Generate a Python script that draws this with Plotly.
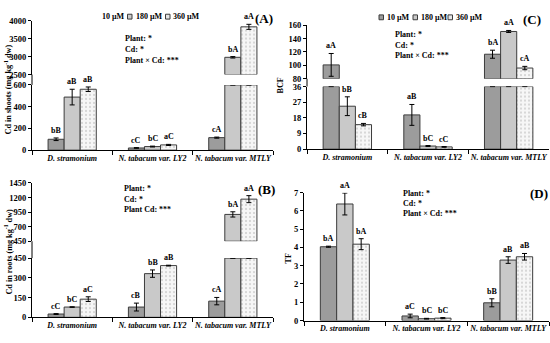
import plotly.graph_objects as go

# ---------------- data ----------------
plants = ["D. stramonium", "N. tabacum var. LY2", "N. tabacum var. MTLY"]
conc_labels = ["10 µM", "180 µM", "360 µM"]

# (A) Cd in shoots
shoot_10 = [100, 20, 115]
shoot_10_err = [12, 3, 5]
shoot_10_sig = ["bB", "cC", "cA"]
shoot_180 = [488, 33, 2980]
shoot_180_err = [72, 4, 20]
shoot_180_sig = ["aB", "bC", "bA"]
shoot_360 = [560, 48, 3825]
shoot_360_err = [21, 5, 70]
shoot_360_sig = ["aB", "aC", "aA"]

# (B) Cd in roots
root_10 = [25, 78, 123]
root_10_err = [3, 30, 28]
root_10_sig = ["cC", "cB", "cA"]
root_180 = [78, 332, 910]
root_180_err = [2, 28, 45]
root_180_sig = ["bC", "bB", "bA"]
root_360 = [138, 393, 1172]
root_360_err = [18, 3, 60]
root_360_sig = ["aC", "aB", "aA"]

# (C) BCF
bcf_10 = [100.7, 19.7, 116.6]
bcf_10_err = [17, 6, 6]
bcf_10_sig = ["aA", "aB", "bA"]
bcf_180 = [24.7, 1.8, 150.5]
bcf_180_err = [5.4, 0.3, 1.5]
bcf_180_sig = ["bB", "bC", "aA"]
bcf_360 = [14.1, 1.3, 96]
bcf_360_err = [0.7, 0.2, 2.5]
bcf_360_sig = ["cB", "cC", "cA"]

# (D) TF
tf_10 = [4.04, 0.25, 0.97]
tf_10_err = [0.03, 0.1, 0.22]
tf_10_sig = ["bA", "aC", "bB"]
tf_180 = [6.38, 0.1, 3.31]
tf_180_err = [0.6, 0.02, 0.18]
tf_180_sig = ["aA", "bC", "aB"]
tf_360 = [4.18, 0.13, 3.49]
tf_360_err = [0.3, 0.03, 0.18]
tf_360_sig = ["bA", "bC", "aB"]

stats_AC_D = ["Plant: *", "Cd: *", "Plant × Cd: ***"]
stats_B = ["Plant: *", "Cd: *", "Plant Cd: ***"]

# ---------------- layout helpers ----------------
W, H = 550, 343
FONT = "Liberation Serif"
BARGAP = 0.4
OUTLINE = "#3c3c3c"


def dom_x(a, b):
    return [a / W, b / W]


def dom_y(bottom, top):
    return [1 - bottom / H, 1 - top / H]


styles = [
    dict(color="#9c9c9c"),
    dict(color="#c9c9c9"),
    dict(color="#f4f4f4", pattern=dict(shape=".", fgcolor="#a8a8a8", bgcolor="#f6f6f6",
                                       size=4, solidity=0.22)),
]
legend_fill = ["#9c9c9c", "#c9c9c9", "#e6e6e6"]

panels = [
    dict(letter="(A)", series=[(shoot_10, shoot_10_err, shoot_10_sig),
                               (shoot_180, shoot_180_err, shoot_180_sig),
                               (shoot_360, shoot_360_err, shoot_360_sig)],
         xpx=(32, 273), lower=(0, 600), lower_ticks=[0, 200, 400, 600], lower_px=(149.5, 82.3),
         upper=(2500, 4000), upper_ticks=[2500, 3000, 3500, 4000], upper_px=(71.7, 16),
         title="Cd in shoots (mg kg<sup>-1</sup> dw)", title_pos=(8, 87),
         letter_pos=(264, 14), stats=stats_AC_D, stats_x=123, stats_y=[34, 45.5, 57]),
    dict(letter="(B)", series=[(root_10, root_10_err, root_10_sig),
                               (root_180, root_180_err, root_180_sig),
                               (root_360, root_360_err, root_360_sig)],
         xpx=(32, 273), lower=(0, 450), lower_ticks=[0, 150, 300, 450], lower_px=(321.7, 260.7),
         upper=(450, 1450), upper_ticks=[450, 700, 950, 1200, 1450], upper_px=(243.3, 183.3),
         title="Cd in roots (mg kg<sup>-1</sup> dw)", title_pos=(8, 254),
         letter_pos=(266, 190.5), stats=stats_B, stats_x=122, stats_y=[189.5, 200, 210.5]),
    dict(letter="(C)", series=[(bcf_10, bcf_10_err, bcf_10_sig),
                               (bcf_180, bcf_180_err, bcf_180_sig),
                               (bcf_360, bcf_360_err, bcf_360_sig)],
         xpx=(307, 549), lower=(0, 36), lower_ticks=[0, 9, 18, 27, 36], lower_px=(148.5, 84),
         upper=(80, 160), upper_ticks=[80, 100, 120, 140, 160], upper_px=(76, 20.7),
         title="BCF", title_pos=(281, 83),
         letter_pos=(532, 15), stats=stats_AC_D, stats_x=393, stats_y=[30.5, 41.5, 52.5]),
    dict(letter="(D)", series=[(tf_10, tf_10_err, tf_10_sig),
                               (tf_180, tf_180_err, tf_180_sig),
                               (tf_360, tf_360_err, tf_360_sig)],
         xpx=(304, 549), lower=(0, 7), lower_ticks=[0, 1, 2, 3, 4, 5, 6, 7], lower_px=(325, 193.3),
         upper=None,
         title="TF", title_pos=(288, 261),
         letter_pos=(539, 194), stats=stats_AC_D, stats_x=401, stats_y=[194, 204.5, 215]),
]

fig = go.Figure()
layout = dict(width=W, height=H, margin=dict(l=0, r=0, t=0, b=0),
              paper_bgcolor="white", plot_bgcolor="white", barmode="group",
              bargap=BARGAP, bargroupgap=0, showlegend=False,
              font=dict(family=FONT, color="black"))
annotations = []
shapes = []

tick_font = dict(family=FONT, size=8.5, color="black", weight="bold")
cat_font = dict(family=FONT, size=8, color="black", weight="bold", style="italic")
lbl_font = dict(family=FONT, size=8, color="black", weight="bold")


def axis_key(prefix, n):
    return prefix + ("" if n == 1 else str(n))


def ref(prefix, n):
    return prefix[0] + ("" if n == 1 else str(n))


n = 1
for p in panels:
    x0, x1 = p["xpx"]
    cat_px = (x1 - x0) / len(plants)
    bar_px = cat_px * (1 - BARGAP) / 3
    lo_n = n
    up_n = n + 1 if p["upper"] else None
    n += 2 if p["upper"] else 1

    # lower subplot axes
    layout[axis_key("xaxis", lo_n)] = dict(
        domain=dom_x(x0, x1), anchor=ref("y", lo_n), type="category",
        categoryarray=plants, range=[-0.5, 2.5], showline=True, linecolor="black",
        linewidth=1, ticks="outside", tickson="boundaries", ticklen=4, tickcolor="black",
        tickfont=cat_font, tickangle=0, showgrid=False, zeroline=False)
    layout[axis_key("yaxis", lo_n)] = dict(
        domain=dom_y(*p["lower_px"]), anchor=ref("x", lo_n), range=list(p["lower"]),
        tickvals=p["lower_ticks"], showline=True, linecolor="black", linewidth=1,
        ticks="outside", ticklen=3, tickcolor="black", tickfont=tick_font,
        showgrid=False, zeroline=False)
    if up_n:
        layout[axis_key("xaxis", up_n)] = dict(
            domain=dom_x(x0, x1), anchor=ref("y", up_n), type="category",
            categoryarray=plants, range=[-0.5, 2.5], visible=False)
        layout[axis_key("yaxis", up_n)] = dict(
            domain=dom_y(*p["upper_px"]), anchor=ref("x", up_n), range=list(p["upper"]),
            tickvals=p["upper_ticks"], showline=True, linecolor="black", linewidth=1,
            ticks="outside", ticklen=3, tickcolor="black", tickfont=tick_font,
            showgrid=False, zeroline=False)
        # continuous y-axis line across the break
        shapes.append(dict(type="line", xref="paper", yref="paper",
                           x0=x0 / W, x1=x0 / W,
                           y0=dom_y(*p["lower_px"])[1], y1=dom_y(*p["upper_px"])[0],
                           line=dict(color="black", width=1)))

    lo_max = p["lower"][1]
    for k, (vals, errs, sigs) in enumerate(p["series"]):
        st = styles[k]
        marker = dict(color=st["color"], line=dict(color=OUTLINE, width=1))
        if "pattern" in st:
            marker["pattern"] = st["pattern"]
        if up_n:
            lo_y = [min(v, lo_max) for v in vals]
            lo_e = [e if v <= lo_max else 0 for v, e in zip(vals, errs)]
        else:
            lo_y = list(vals)
            lo_e = list(errs)
        fig.add_trace(go.Bar(
            x=plants, y=lo_y, xaxis=ref("x", lo_n), yaxis=ref("y", lo_n),
            marker=marker, offsetgroup=str(k), alignmentgroup="g" + str(lo_n),
            name=conc_labels[k], hoverinfo="skip",
            error_y=dict(type="data", array=lo_e, color="black", thickness=1, width=2.5)))
        if up_n:
            umin = p["upper"][0]
            up_y = [v - umin if v > umin else None for v in vals]
            up_e = [e if v > umin else 0 for v, e in zip(vals, errs)]
            fig.add_trace(go.Bar(
                x=plants, y=up_y, base=umin, xaxis=ref("x", up_n), yaxis=ref("y", up_n),
                marker=marker, offsetgroup=str(k), alignmentgroup="g" + str(up_n),
                name=conc_labels[k], hoverinfo="skip",
                error_y=dict(type="data", array=up_e, color="black", thickness=1, width=2.5)))
        # significance letters
        for i, (v, e, s) in enumerate(zip(vals, errs, sigs)):
            on_up = up_n is not None and v > p["upper"][0]
            sub = up_n if on_up else lo_n
            annotations.append(dict(
                x=plants[i], y=v + e, xref=ref("x", sub), yref=ref("y", sub),
                text=s, showarrow=False, yanchor="bottom", xanchor="center",
                xshift=(k - 1) * bar_px, yshift=1, font=lbl_font))

    # axis title
    tx, ty = p["title_pos"]
    annotations.append(dict(x=tx / W, y=1 - ty / H, xref="paper", yref="paper",
                            text=p["title"], textangle=-90, showarrow=False,
                            xanchor="center", yanchor="middle",
                            font=dict(family=FONT, size=8.2, color="black", weight="bold")))
    # panel letter
    lx, ly = p["letter_pos"]
    annotations.append(dict(x=lx / W, y=1 - ly / H, xref="paper", yref="paper",
                            text=p["letter"], showarrow=False, xanchor="center",
                            yanchor="middle",
                            font=dict(family=FONT, size=13, color="black", weight="bold")))
    # statistics
    for line, sy in zip(p["stats"], p["stats_y"]):
        annotations.append(dict(x=p["stats_x"] / W, y=1 - sy / H, xref="paper", yref="paper",
                                text=line, showarrow=False, xanchor="left", yanchor="middle",
                                font=dict(family=FONT, size=8, color="black", weight="bold")))

# custom legends (A: first box is cut off in the original figure)
legend_items = [
    # (box_x or None, text_x, y)
    [(None, 100, 12), (127.5, 133.5, 12), (165.5, 171, 12)],
    [(379, 384.5, 12.7), (413, 418.5, 12.7), (448, 453.5, 12.7)],
]
for items in legend_items:
    for k, (bx, txx, yy) in enumerate(items):
        if bx is not None:
            shapes.append(dict(type="rect", xref="paper", yref="paper",
                               x0=bx / W, x1=(bx + 4.5) / W,
                               y0=1 - (yy + 2.5) / H, y1=1 - (yy - 2.5) / H,
                               fillcolor=legend_fill[k], line=dict(color=OUTLINE, width=1)))
        annotations.append(dict(x=txx / W, y=1 - yy / H, xref="paper", yref="paper",
                                text=conc_labels[k], showarrow=False, xanchor="left",
                                yanchor="middle",
                                font=dict(family=FONT, size=8, color="black", weight="bold")))

layout["annotations"] = annotations
layout["shapes"] = shapes
layout["hovermode"] = False
fig.update_layout(**layout)
fig.write_html("out.html", config={"displayModeBar": False, "staticPlot": True},
               post_script="document.body.style.margin='0';document.body.style.padding='0';")
